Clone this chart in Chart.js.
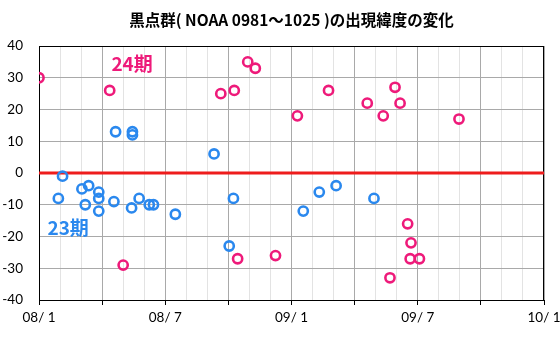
<!DOCTYPE html>
<html><head><meta charset="utf-8">
<script src="https://cdn.jsdelivr.net/npm/chart.js@4"></script>
<style>html,body{margin:0;padding:0;background:#fff}</style>
</head><body>
<canvas id="c" width="560" height="340"></canvas>
<script>
// Days since 08/1 (x) and latitude in degrees (y)
const cycle23X = [2.3, 2.8, 5.1, 5.5, 5.9, 7.1, 7.1, 7.1, 8.9, 9.1, 11.0, 11.1, 11.1, 11.9, 13.1, 13.6, 16.2, 20.8, 22.6, 23.1, 31.4, 33.3, 35.3, 39.8];
const cycle23Y = [-8, -1, -5, -10, -4, -6, -8, -12, -9, 13, -11, 13, 12, -8, -10, -10, -13, 6, -23, -8, -12, -6, -4, -8];
const cycle24X = [0, 8.4, 10.0, 21.6, 23.2, 23.6, 24.8, 25.7, 28.1, 30.7, 34.4, 39.0, 40.9, 41.7, 42.3, 42.9, 43.8, 44.1, 44.2, 45.2, 49.9];
const cycle24Y = [30, 26, -29, 25, 26, -27, 35, 33, -26, 18, 26, 22, 18, -33, 27, 22, -16, -27, -22, -27, 17];
const xTickValues = [0, 15, 30, 45, 60];
const xTickLabels = ['08/ 1', '08/ 7', '09/ 1', '09/ 7', '10/ 1'];
const seriesNames = ['23期', '24期'];
const titleText = '黒点群( NOAA 0981〜1025 )の出現緯度の変化';

const BLUE = '#2a88ee';
const PINK = '#ee1a7a';

const toPts = (xs, ys) => xs.map((x, i) => ({x, y: ys[i]}));

const borderPlugin = {
  id: 'boxBorder',
  beforeDatasetsDraw(chart) {
    const a = chart.chartArea, c = chart.ctx;
    c.save();
    c.strokeStyle = '#000';
    c.lineWidth = 1;
    c.strokeRect(Math.round(a.left) + 0.5, Math.round(a.top) + 0.5, Math.round(a.right - a.left) - 1, Math.round(a.bottom - a.top));
    c.restore();
  }
};
const seriesLabelPlugin = {
  id: 'seriesLabels',
  afterDraw(chart) {
    const c = chart.ctx, xs = chart.scales.x, ys = chart.scales.y;
    c.save();
    c.font = 'bold 19px "Noto Sans CJK JP"';
    c.textBaseline = 'middle';
    c.textAlign = 'left';
    c.fillStyle = PINK;
    c.fillText(seriesNames[1], xs.getPixelForValue(8.6), ys.getPixelForValue(34.3));
    c.fillStyle = BLUE;
    c.fillText(seriesNames[0], xs.getPixelForValue(1.0), ys.getPixelForValue(-17.3));
    c.restore();
  }
};

new Chart(document.getElementById('c'), {
  type: 'scatter',
  data: {
    datasets: [
      {label: seriesNames[0], data: toPts(cycle23X, cycle23Y), pointStyle: 'circle', pointRadius: 4.6, pointBorderWidth: 2.6, borderColor: BLUE, backgroundColor: 'rgba(0,0,0,0)', order: 1},
      {label: seriesNames[1], data: toPts(cycle24X, cycle24Y), pointStyle: 'circle', pointRadius: 4.6, pointBorderWidth: 2.6, borderColor: PINK, backgroundColor: 'rgba(0,0,0,0)', order: 1},
      {type: 'line', label: 'zero', data: [{x: 0, y: 0}, {x: 60, y: 0}], borderColor: '#ee1c1c', borderWidth: 3, pointRadius: 0, order: 3}
    ]
  },
  options: {
    responsive: false,
    animation: false,
    layout: {padding: {left: 0, right: 16, top: 0, bottom: 0}},
    plugins: {
      legend: {display: false},
      tooltip: {enabled: false},
      title: {display: true, text: titleText, fullSize: false, color: '#000',
        font: {family: '"Noto Sans CJK JP"', size: 15.5, weight: 'bold', lineHeight: 1.2},
        padding: {top: 11, bottom: 16.4}}
    },
    scales: {
      x: {
        type: 'linear', min: 0, max: 60,
        afterFit(s) { s.height = 40; s.paddingLeft = 0; s.paddingRight = 0; },
        border: {color: '#000', width: 1},
        grid: {
          color: ctx => (ctx.tick && Math.abs(ctx.tick.value % 7.5) < 1e-6) ? '#a9a9a9' : '#e3e3e3',
          tickColor: ctx => (ctx.tick && Math.abs(ctx.tick.value % 7.5) < 1e-6) ? '#000' : 'rgba(0,0,0,0)',
          tickLength: 5, lineWidth: 1
        },
        ticks: {
          stepSize: 2.5, autoSkip: false, maxRotation: 0, minRotation: 0, padding: 5, color: '#000',
          font: {family: 'Lato', size: 13.5},
          callback: v => { const i = xTickValues.indexOf(v); return i >= 0 ? xTickLabels[i] : ''; }
        }
      },
      y: {
        min: -40, max: 40,
        afterFit(s) { s.width = 39; s.paddingTop = 0; s.paddingBottom = 0; },
        border: {color: '#000', width: 1},
        grid: {color: '#a9a9a9', drawTicks: false, lineWidth: 1},
        ticks: {stepSize: 10, padding: 16, color: '#000', font: {family: 'Lato', size: 13.5}}
      }
    }
  },
  plugins: [borderPlugin, seriesLabelPlugin]
});
</script>
</body></html>
